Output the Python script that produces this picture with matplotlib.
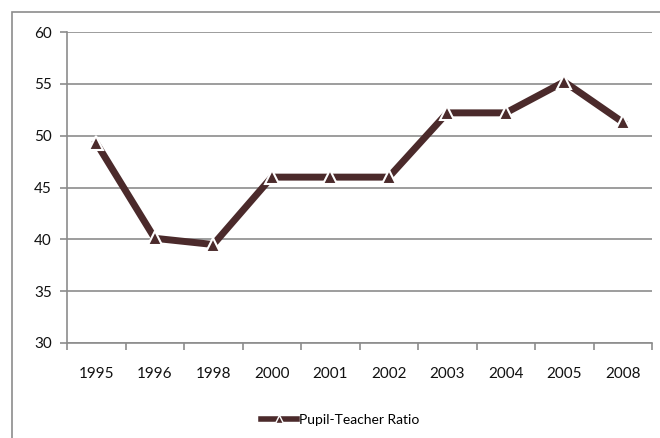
import matplotlib
matplotlib.use("Agg")
import matplotlib.pyplot as plt
from matplotlib.lines import Line2D
from matplotlib.patches import Rectangle
import numpy as np

years = ["1995", "1996", "1998", "2000", "2001", "2002", "2003", "2004", "2005", "2008"]
ratio = [49.3, 40.1, 39.5, 46.0, 46.0, 46.0, 52.2, 52.2, 55.2, 51.3]
series_name = "Pupil-Teacher Ratio"

plt.rcParams['font.family'] = ['Lato', 'DejaVu Sans']

W, H = 660, 438
fig = plt.figure(figsize=(W / 100, H / 100), dpi=100)

# outer chart frame (clipped at right and bottom)
fig.patches.append(Rectangle((12 / W, -0.05), 1.1, (H - 12) / H + 0.05,
                             transform=fig.transFigure, fill=False,
                             edgecolor="#8c8c8c", linewidth=1.2))

ax = fig.add_axes([67 / W, (H - 343) / H, (652 - 67) / W, (343 - 32) / H])
x = np.arange(len(years))
line_col = "#4b2a2b"
ax.plot(x, ratio, color=line_col, linewidth=5, solid_joinstyle="miter",
        marker="^", markersize=10, markerfacecolor=line_col,
        markeredgecolor="white", markeredgewidth=1.5, zorder=3)

ax.set_xlim(-0.5, len(years) - 0.5)
ax.set_ylim(30, 60)
ax.set_yticks(range(30, 61, 5))
ax.set_xticks(x)
ax.set_xticklabels(years)
ax.set_xticks(np.arange(-0.5, len(years), 1), minor=True)
ax.tick_params(axis="x", which="major", length=0, pad=17, labelsize=11, labelcolor="#111111")
ax.tick_params(axis="x", which="minor", length=5, width=1.2, color="#8c8c8c")
ax.tick_params(axis="y", length=5, width=1.2, color="#8c8c8c", pad=6, labelsize=11, labelcolor="#111111")

ax.grid(axis="y", color="#8c8c8c", linewidth=1.2)
ax.set_axisbelow(True)
for s in ["top", "right"]:
    ax.spines[s].set_visible(False)
for s in ["left", "bottom"]:
    ax.spines[s].set_color("#8c8c8c")
    ax.spines[s].set_linewidth(1.2)

handle = Line2D([], [], color=line_col, linewidth=4, marker="^", markersize=6,
                markerfacecolor=line_col, markeredgecolor="white", markeredgewidth=1)
fig.legend([handle], [series_name], loc="center", bbox_to_anchor=(340 / W, 1 - 420 / H),
           frameon=False, fontsize=10, handlelength=2.6, handletextpad=0.1)

fig.savefig("out.png", dpi=100)
